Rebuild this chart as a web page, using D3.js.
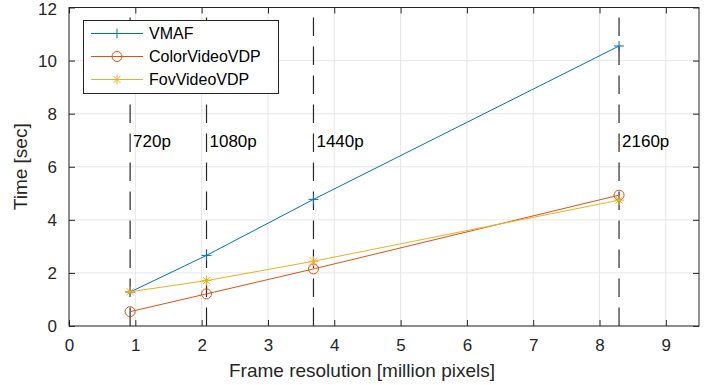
<!DOCTYPE html>
<html>
<head>
<meta charset="utf-8">
<script src="https://cdn.jsdelivr.net/npm/d3@7"></script>
<style>
  html, body { margin: 0; padding: 0; background: #fff; }
  svg { display: block; font-family: "Liberation Sans", Arial, Helvetica, sans-serif; }
</style>
</head>
<body>
<svg id="chart" width="715" height="385"></svg>
<script>
// Frame resolutions (million pixels) and their names
const resolutions = [0.9216, 2.0736, 3.6864, 8.2944];
const resolutionNames = ["720p", "1080p", "1440p", "2160p"];

// Processing time [sec] per metric
const seriesNames = ["VMAF", "ColorVideoVDP", "FovVideoVDP"];
const vmafTime = [1.28, 2.66, 4.77, 10.55];
const colorVideoVdpTime = [0.54, 1.21, 2.15, 4.93];
const fovVideoVdpTime = [1.29, 1.71, 2.44, 4.74];

const xTicks = [0, 1, 2, 3, 4, 5, 6, 7, 8, 9];
const yTicks = [0, 2, 4, 6, 8, 10, 12];

const series = [
  { name: seriesNames[0], values: vmafTime, color: "#0072BD", marker: "plus" },
  { name: seriesNames[1], values: colorVideoVdpTime, color: "#D95319", marker: "circle" },
  { name: seriesNames[2], values: fovVideoVdpTime, color: "#EDB120", marker: "star" }
];

const svg = d3.select("#chart");
const plotLeft = 69, plotRight = 699, plotTop = 7.5, plotBottom = 326;
const axisColor = "#262626";
const tickFont = 17;

const x = d3.scaleLinear().domain([0, 9.5]).range([plotLeft, plotRight]);
const y = d3.scaleLinear().domain([0, 12]).range([plotBottom, plotTop]);

// Grid
const grid = svg.append("g");
grid.selectAll("line.gx").data(xTicks).join("line")
  .attr("x1", d => x(d)).attr("x2", d => x(d))
  .attr("y1", plotTop).attr("y2", plotBottom)
  .attr("stroke", "#e6e6e6").attr("stroke-width", 1);
grid.selectAll("line.gy").data(yTicks).join("line")
  .attr("x1", plotLeft).attr("x2", plotRight)
  .attr("y1", d => y(d)).attr("y2", d => y(d))
  .attr("stroke", "#e6e6e6").attr("stroke-width", 1);

// Axes with inward ticks on all four sides
const tickLen = 6;
const axB = svg.append("g").attr("transform", `translate(0,${plotBottom})`)
  .call(d3.axisBottom(x).tickValues(xTicks).tickSizeInner(-tickLen).tickSizeOuter(0).tickPadding(13).tickFormat(d3.format("d")));
const axT = svg.append("g").attr("transform", `translate(0,${plotTop})`)
  .call(d3.axisTop(x).tickValues(xTicks).tickSizeInner(-tickLen).tickSizeOuter(0).tickFormat(""));
const axL = svg.append("g").attr("transform", `translate(${plotLeft},0)`)
  .call(d3.axisLeft(y).tickValues(yTicks).tickSizeInner(-tickLen).tickSizeOuter(0).tickPadding(12).tickFormat(d3.format("d")));
const axR = svg.append("g").attr("transform", `translate(${plotRight},0)`)
  .call(d3.axisRight(y).tickValues(yTicks).tickSizeInner(-tickLen).tickSizeOuter(0).tickFormat(""));

[axB, axT, axL, axR].forEach(a => {
  a.select(".domain").remove();
  a.selectAll(".tick line").attr("stroke", axisColor).attr("stroke-width", 1);
  a.selectAll(".tick text").attr("fill", axisColor).attr("font-size", tickFont)
    .attr("font-family", "Liberation Sans, Arial, sans-serif");
});
// keep the top y label inside the canvas
axL.selectAll(".tick text").filter(d => d === 12).attr("dy", "0.40em");

// Box
svg.append("rect")
  .attr("x", plotLeft).attr("y", plotTop)
  .attr("width", plotRight - plotLeft).attr("height", plotBottom - plotTop)
  .attr("fill", "none").attr("stroke", axisColor).attr("stroke-width", 1);

// Resolution marker lines (dashed, drawn from the bottom up)
const vl = svg.append("g");
vl.selectAll("line").data(resolutions).join("line")
  .attr("x1", d => x(d)).attr("x2", d => x(d))
  .attr("y1", plotBottom).attr("y2", plotTop)
  .attr("stroke", "#2a2a2a").attr("stroke-width", 1.2)
  .attr("stroke-dasharray", "18.5,10.5");
vl.selectAll("text").data(resolutions).join("text")
  .attr("x", d => x(d) + 3).attr("y", 147)
  .attr("font-size", tickFont).attr("fill", "#000")
  .text((d, i) => resolutionNames[i]);

// Marker drawing helper
function drawMarker(g, type, color, cx, cy) {
  const r = 5;
  if (type === "plus") {
    g.append("path")
      .attr("d", `M${cx - r},${cy}H${cx + r}M${cx},${cy - r}V${cy + r}`)
      .attr("stroke", color).attr("stroke-width", 1).attr("fill", "none");
  } else if (type === "circle") {
    g.append("circle").attr("cx", cx).attr("cy", cy).attr("r", r)
      .attr("stroke", color).attr("stroke-width", 1).attr("fill", "none");
  } else {
    const d = r * 0.72;
    g.append("path")
      .attr("d", `M${cx - r},${cy}H${cx + r}M${cx},${cy - r}V${cy + r}` +
                 `M${cx - d},${cy - d}L${cx + d},${cy + d}M${cx - d},${cy + d}L${cx + d},${cy - d}`)
      .attr("stroke", color).attr("stroke-width", 1).attr("fill", "none");
  }
}

// Series
const line = d3.line().x(d => x(d[0])).y(d => y(d[1]));
series.forEach(s => {
  const pts = resolutions.map((r, i) => [r, s.values[i]]);
  const g = svg.append("g");
  g.append("path").datum(pts).attr("d", line)
    .attr("fill", "none").attr("stroke", s.color).attr("stroke-width", 1);
  pts.forEach(p => drawMarker(g, s.marker, s.color, x(p[0]), y(p[1])));
});

// Axis titles
svg.append("text")
  .attr("x", (plotLeft + plotRight) / 2 - 22).attr("y", 377)
  .attr("text-anchor", "middle").attr("font-size", 19).attr("fill", axisColor)
  .text("Frame resolution [million pixels]");
svg.append("text")
  .attr("transform", `translate(27,${(plotTop + plotBottom) / 2}) rotate(-90)`)
  .attr("text-anchor", "middle").attr("font-size", 19).attr("fill", axisColor)
  .text("Time [sec]");

// Legend
const lg = svg.append("g");
lg.append("rect")
  .attr("x", 83.5).attr("y", 20.5).attr("width", 195).attr("height", 73)
  .attr("fill", "#fff").attr("stroke", axisColor).attr("stroke-width", 1);
series.forEach((s, i) => {
  const ly = 33.5 + i * 23;
  lg.append("line").attr("x1", 91).attr("x2", 143).attr("y1", ly).attr("y2", ly)
    .attr("stroke", s.color).attr("stroke-width", 1);
  drawMarker(lg, s.marker, s.color, 117, ly);
  lg.append("text").attr("x", 149).attr("y", ly).attr("dy", "0.35em")
    .attr("font-size", 16).attr("fill", "#000").text(s.name);
});
</script>
</body>
</html>
